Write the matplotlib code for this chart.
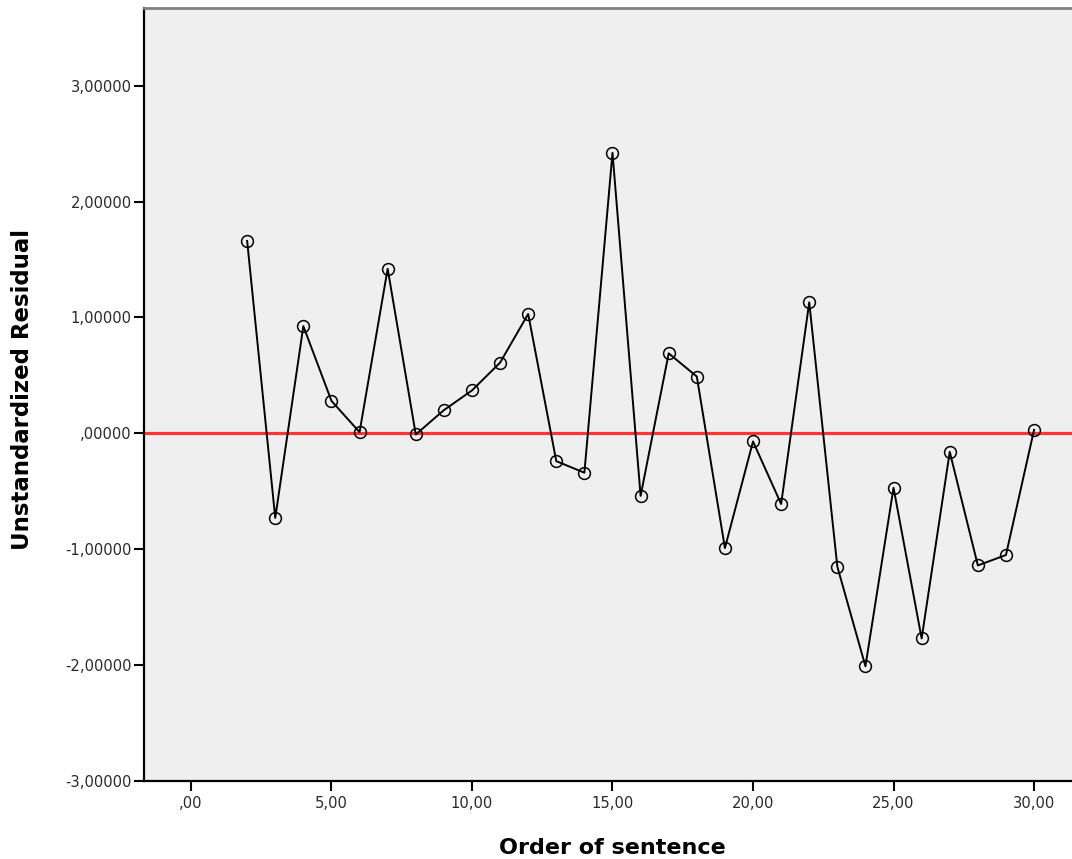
import matplotlib
matplotlib.use('Agg')
import matplotlib.pyplot as plt
from matplotlib.ticker import FuncFormatter

order = list(range(2, 31))
residual = [1.66, -0.73, 0.925, 0.28, 0.01, 1.42, -0.01, 0.20, 0.37, 0.61,
            1.03, -0.24, -0.34, 2.42, -0.54, 0.69, 0.49, -0.99, -0.07, -0.61,
            1.13, -1.15, -2.01, -0.47, -1.77, -0.16, -1.14, -1.05, 0.03]

x_ticks = [0, 5, 10, 15, 20, 25, 30]
y_ticks = [-3, -2, -1, 0, 1, 2, 3]


def comma_fmt(decimals):
    # SPSS style: decimal comma, no leading zero
    def f(v, pos):
        s = f"{v:.{decimals}f}".replace('.', ',')
        if s.startswith('0,'):
            s = s[1:]
        elif s.startswith('-0,'):
            s = '-' + s[2:]
        return s
    return FuncFormatter(f)


plt.rcParams['font.family'] = ['DejaVu Sans']

W, H = 1072, 859
fig = plt.figure(figsize=(W / 100, H / 100), dpi=100)
ax = fig.add_axes([144 / W, 1 - 781 / H, 1 - 144 / W, 773 / H])
ax.set_facecolor('#efefef')

# reference line at zero
ax.axhline(0, color='#ff3535', linewidth=2.3, zorder=2)

ax.plot(order, residual, color='black', linewidth=1.4, marker='o', markersize=8.5,
        markerfacecolor='none', markeredgecolor='black', markeredgewidth=1.1, zorder=3)

ax.set_xlim(-1.67, 31.35)
ax.set_ylim(-3.0, 3.67)
ax.set_xticks(x_ticks)
ax.set_yticks(y_ticks)
ax.xaxis.set_major_formatter(comma_fmt(2))
ax.yaxis.set_major_formatter(comma_fmt(5))

ax.tick_params(axis='both', direction='out', length=7.5, width=1.5, colors='black',
               labelcolor='#2a2a2a', labelsize=10.6)
ax.tick_params(axis='x', pad=3)
ax.tick_params(axis='y', pad=1.5)

ax.spines['left'].set_linewidth(1.6)
ax.spines['bottom'].set_linewidth(1.6)
ax.spines['top'].set_color('#808080')
ax.spines['top'].set_linewidth(2)
ax.spines['right'].set_visible(False)

fig.text(612 / W, 1 - 848 / H, 'Order of sentence',
         fontsize=16, fontweight='bold', ha='center', va='center')
fig.text(23 / W, 1 - 389 / H, 'Unstandardized Residual',
         fontsize=16.5, fontweight='bold', ha='center', va='center', rotation=90)

fig.savefig('out.png', dpi=100)
